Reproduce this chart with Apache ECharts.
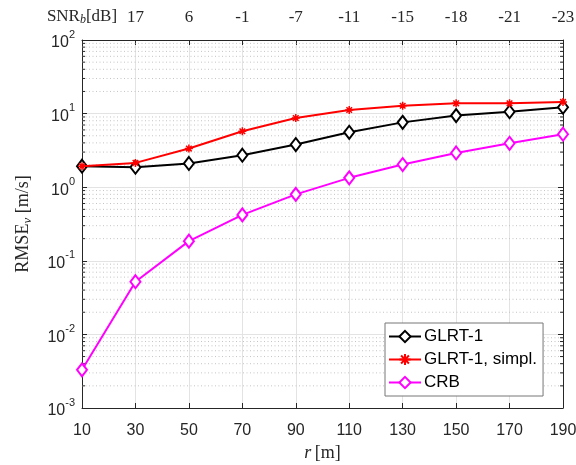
<!DOCTYPE html>
<html>
<head>
<meta charset="utf-8">
<script src="https://cdn.jsdelivr.net/npm/echarts@6/dist/echarts.min.js"></script>
<style>
  html, body { margin: 0; padding: 0; background: #fff; }
  #chart { width: 576px; height: 465px; }
</style>
</head>
<body>
<div id="chart"></div>
<script>
// 距离 r [m]
const rValues = ["10", "30", "50", "70", "90", "110", "130", "150", "170", "190"];
// 上方坐标轴 SNR 标签
const snrLabels = ["SNR_b[dB]", "17", "6", "-1", "-7", "-11", "-15", "-18", "-21", "-23"];

const glrt1 = [1.93, 1.87, 2.1, 2.72, 3.8, 5.57, 7.6, 9.4, 10.6, 12.2];
const glrt1Simpl = [1.93, 2.14, 3.35, 5.75, 8.7, 11.2, 12.8, 13.8, 13.8, 14.4];
const crb = [0.0033, 0.052, 0.185, 0.42, 0.80, 1.34, 2.03, 2.92, 3.95, 5.25];

// 对数轴次网格 (2..9 x 10^k)
const minorValues = [];
for (let k = -3; k <= 1; k++) {
  for (let m = 2; m <= 9; m++) minorValues.push(m * Math.pow(10, k));
}

const sans = "Liberation Sans";
const serif = "Liberation Serif";
const axisColor = "#262626";

const chart = echarts.init(document.getElementById("chart"));

const option = {
  animation: false,
  grid: { left: 82, right: 13, top: 40, bottom: 57, outerBoundsMode: "none", containLabel: false },
  legend: {
    data: ["GLRT-1", "GLRT-1, simpl.", "CRB"],
    orient: "vertical",
    left: 385,
    top: 323,
    padding: [5, 6, 5, 3],
    itemGap: 6,
    itemWidth: 32,
    itemHeight: 14,
    backgroundColor: "#fff",
    borderColor: "#777",
    borderWidth: 1,
    borderRadius: 0,
    textStyle: { fontFamily: sans, fontSize: 17, color: "#000", padding: [0, 0, 0, -2] },
  },
  xAxis: [
    {
      type: "category",
      data: rValues,
      boundaryGap: false,
      axisLine: { lineStyle: { color: axisColor, width: 1 } },
      axisTick: { inside: true, length: 5, lineStyle: { color: axisColor } },
      axisLabel: { fontFamily: sans, fontSize: 16, color: axisColor, margin: 15, interval: 0 },
      splitLine: { show: true, lineStyle: { color: "#e3e3e3", width: 1 } },
      name: "{i|r} {a|[m]}",
      nameLocation: "middle",
      nameGap: 30,
      nameTextStyle: {
        rich: {
          i: { fontFamily: serif, fontStyle: "italic", fontSize: 18, color: axisColor },
          a: { fontFamily: serif, fontSize: 18, color: axisColor },
        },
      },
    },
    {
      type: "category",
      data: snrLabels,
      position: "top",
      boundaryGap: false,
      axisLine: { lineStyle: { color: axisColor, width: 1 } },
      axisTick: { inside: true, length: 5, interval: 0, lineStyle: { color: axisColor } },
      axisLabel: {
        margin: 14,
        interval: 0,
        formatter: function (v) {
          if (v === "SNR_b[dB]") return "{a|SNR}{s|b}{a|[dB]}";
          return "{a|" + v + "}";
        },
        rich: {
          a: { fontFamily: serif, fontSize: 17, color: axisColor },
          s: { fontFamily: serif, fontStyle: "italic", fontSize: 12, color: axisColor, verticalAlign: "bottom", padding: [6, 0, 0, 0] },
        },
      },
      splitLine: { show: false },
    },
  ],
  yAxis: [
    {
      type: "log",
      min: 0.001,
      max: 100,
      logBase: 10,
      axisLine: { show: true, lineStyle: { color: axisColor, width: 1 } },
      axisTick: { show: true, inside: true, length: 5, lineStyle: { color: axisColor } },
      axisLabel: {
        margin: 7,
        formatter: function (v) {
          const e = Math.round(Math.log10(v));
          return "{b|10}{s|" + e + "}";
        },
        rich: {
          b: { fontFamily: sans, fontSize: 16, color: axisColor, lineHeight: 22, verticalAlign: "bottom" },
          s: { fontFamily: sans, fontSize: 11, color: axisColor, lineHeight: 22, verticalAlign: "top" },
        },
      },
      splitLine: { show: true, lineStyle: { color: "#e3e3e3", width: 1 } },
      name: "{a|RMSE}{s|v}{a| [m/s]}",
      nameLocation: "middle",
      nameRotate: 90,
      nameGap: 48,
      nameTextStyle: {
        rich: {
          a: { fontFamily: serif, fontSize: 18, color: axisColor },
          s: { fontFamily: serif, fontStyle: "italic", fontSize: 13, color: axisColor, verticalAlign: "bottom", padding: [8, 0, 0, 0] },
        },
      },
    },
    {
      type: "log",
      min: 0.001,
      max: 100,
      logBase: 10,
      position: "right",
      axisLine: { show: true, lineStyle: { color: axisColor, width: 1 } },
      axisTick: { show: true, inside: true, length: 5, lineStyle: { color: axisColor } },
      axisLabel: { show: false },
      splitLine: { show: false },
    },
  ],
  series: [
    {
      // 次网格与次刻度
      type: "custom",
      name: "minor",
      silent: true,
      z: 1,
      data: minorValues.map(function (v) { return [0, v]; }),
      encode: { x: 0, y: 1 },
      renderItem: function (params, api) {
        const v = api.value(1);
        const p0 = api.coord([0, v]);
        const p1 = api.coord([rValues.length - 1, v]);
        return {
          type: "group",
          children: [
            {
              type: "line",
              shape: { x1: p0[0], y1: p0[1], x2: p1[0], y2: p1[1] },
              style: { stroke: "#c4c4c4", lineWidth: 1, lineDash: [1, 2.5] },
            },
            {
              type: "line",
              shape: { x1: p0[0], y1: p0[1], x2: p0[0] + 3, y2: p0[1] },
              style: { stroke: axisColor, lineWidth: 1 },
            },
            {
              type: "line",
              shape: { x1: p1[0] - 3, y1: p1[1], x2: p1[0], y2: p1[1] },
              style: { stroke: axisColor, lineWidth: 1 },
            },
          ],
        };
      },
    },
    {
      name: "GLRT-1",
      type: "line",
      data: glrt1,
      clip: false,
      z: 5,
      symbol: "emptyDiamond",
      symbolSize: [10, 13],
      lineStyle: { color: "#000", width: 2 },
      itemStyle: { color: "#000", borderWidth: 2 },
    },
    {
      name: "GLRT-1, simpl.",
      type: "line",
      data: glrt1Simpl,
      clip: false,
      z: 6,
      symbol: "path://M0,5L10,5M5,0L5,10M1.5,1.5L8.5,8.5M8.5,1.5L1.5,8.5",
      symbolSize: 8,
      lineStyle: { color: "#ff0000", width: 2 },
      itemStyle: { color: "none", borderColor: "#ff0000", borderWidth: 1.5 },
    },
    {
      name: "CRB",
      type: "line",
      data: crb,
      clip: false,
      z: 4,
      symbol: "emptyDiamond",
      symbolSize: [10, 13],
      lineStyle: { color: "#ff00ff", width: 2 },
      itemStyle: { color: "#ff00ff", borderWidth: 1.5 },
    },
  ],
};

chart.setOption(option);
</script>
</body>
</html>
